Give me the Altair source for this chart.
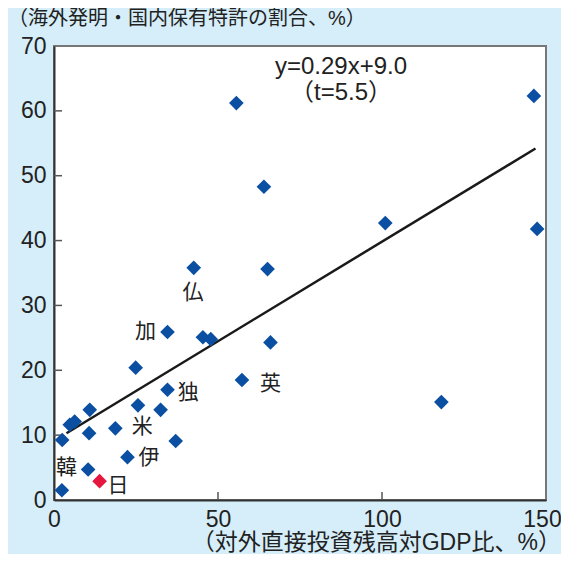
import altair as alt
import pandas as pd

# blue points (other countries)
bx = [2.4, 10.4, 2.5, 4.8, 6.3, 10.9, 10.7, 18.7, 22.4, 25.6, 24.9, 32.5, 34.6, 34.6,
      37.1, 42.6, 45.4, 47.8, 57.3, 66.0, 55.6, 64.0, 65.1, 101.0, 146.3, 147.3, 118.1]
by = [1.5, 4.7, 9.25, 11.6, 12.1, 13.9, 10.3, 11.05, 6.6, 14.6, 20.4, 13.9, 17.0, 25.9,
      9.1, 35.8, 25.1, 24.8, 18.5, 24.3, 61.2, 48.3, 35.6, 42.7, 62.3, 41.8, 15.1]
# Japan
jx = [13.9]
jy = [2.9]

# country labels
lab_text = ["韓", "日", "伊", "米", "独", "加", "仏", "英"]
lab_x = [3.8, 19.5, 29.0, 26.9, 40.9, 27.9, 42.4, 66.0]
lab_y = [4.9, 2.15, 6.5, 11.3, 16.5, 25.9, 31.9, 17.9]

# regression line endpoints (as drawn)
line_x = [3.8, 146.8]
line_y = [10.3, 54.2]

eq_text = ["y=0.29x+9.0", "（t=5.5）"]
eq_x = [87.5, 87.5]
eq_y = [66.8, 62.75]

x_ticks = [50, 100]
y_ticks = [10, 20, 30, 40, 50, 60]

y_title = "（海外発明・国内保有特許の割合、%）"
x_title = "（対外直接投資残高対GDP比、%）"

pts = pd.DataFrame({"x": bx + jx, "y": by + jy,
                    "g": ["other"] * len(bx) + ["jp"] * len(jx)})
labs = pd.DataFrame({"x": lab_x, "y": lab_y, "t": lab_text})
reg = pd.DataFrame({"x": line_x, "y": line_y})
eq = pd.DataFrame({"x": eq_x, "y": eq_y, "t": eq_text})
xt = pd.DataFrame({"v": x_ticks})
yt = pd.DataFrame({"v": y_ticks})

FONT_NUM = "Liberation Sans, Noto Sans CJK JP"
FONT_JP = "Noto Sans CJK JP"
W, H = 492, 454

xs = alt.Scale(domain=[0, 150], nice=False, zero=True)
ys = alt.Scale(domain=[0, 70], nice=False, zero=True)

xaxis = alt.Axis(values=[0, 50, 100, 150], ticks=False, grid=False, title=None,
                 domainColor="#333333", domainWidth=2, labelFont=FONT_NUM,
                 labelFontSize=23, labelColor="#222222", labelPadding=8,
                 labelFlush=False,
                 labelOffset={"condition": {"test": "datum.value == 150", "value": -4},
                              "value": 0})
yaxis = alt.Axis(values=[0, 10, 20, 30, 40, 50, 60, 70], ticks=False, grid=False,
                 title=None, domainColor="#333333", domainWidth=2,
                 labelFont=FONT_NUM, labelFontSize=23, labelColor="#222222",
                 labelPadding=8, labelFlush=False)

points = alt.Chart(pts).mark_point(shape="diamond", filled=True, size=215, opacity=1).encode(
    x=alt.X("x:Q", scale=xs, axis=xaxis),
    y=alt.Y("y:Q", scale=ys, axis=yaxis),
    color=alt.Color("g:N", scale=alt.Scale(domain=["other", "jp"],
                                           range=["#0b4fa2", "#e5173f"]), legend=None),
)

regline = alt.Chart(reg).mark_line(color="#1a1a1a", strokeWidth=2.5).encode(
    x=alt.X("x:Q", scale=xs), y=alt.Y("y:Q", scale=ys))

labels = alt.Chart(labs).mark_text(font=FONT_JP, fontSize=21, color="#222222").encode(
    x=alt.X("x:Q", scale=xs), y=alt.Y("y:Q", scale=ys), text="t:N")

eqs = alt.Chart(eq).mark_text(font=FONT_NUM, fontSize=24, color="#222222").encode(
    x=alt.X("x:Q", scale=xs), y=alt.Y("y:Q", scale=ys), text="t:N")

xtick = alt.Chart(xt).mark_rule(color="#555555", strokeWidth=1.5).encode(
    x=alt.X("v:Q", scale=xs), y=alt.value(H), y2=alt.value(H - 8))
ytick = alt.Chart(yt).mark_rule(color="#555555", strokeWidth=1.5).encode(
    y=alt.Y("v:Q", scale=ys), x=alt.value(0), x2=alt.value(8))

ytitle = alt.Chart(pd.DataFrame({"t": [y_title]})).mark_text(
    font=FONT_NUM, fontSize=20, color="#222222", align="left", baseline="middle"
).encode(x=alt.value(-46), y=alt.value(-27), text="t:N")

xtitle = alt.Chart(pd.DataFrame({"t": [x_title]})).mark_text(
    font=FONT_NUM, fontSize=23, color="#222222", align="right", baseline="middle"
).encode(x=alt.value(W + 15), y=alt.value(H + 43), text="t:N")

chart = alt.layer(xtick, ytick, regline, points, labels, eqs, ytitle, xtitle).properties(
    width=W, height=H,
    autosize=alt.AutoSizeParams(type="none"),
    padding={"left": 46, "top": 38, "right": 15, "bottom": 54},
    background="#d5eef9",
).configure_view(fill="white", stroke="#777777", strokeWidth=2)

chart.save("out.html", embed_options={"renderer": "svg", "actions": False})
